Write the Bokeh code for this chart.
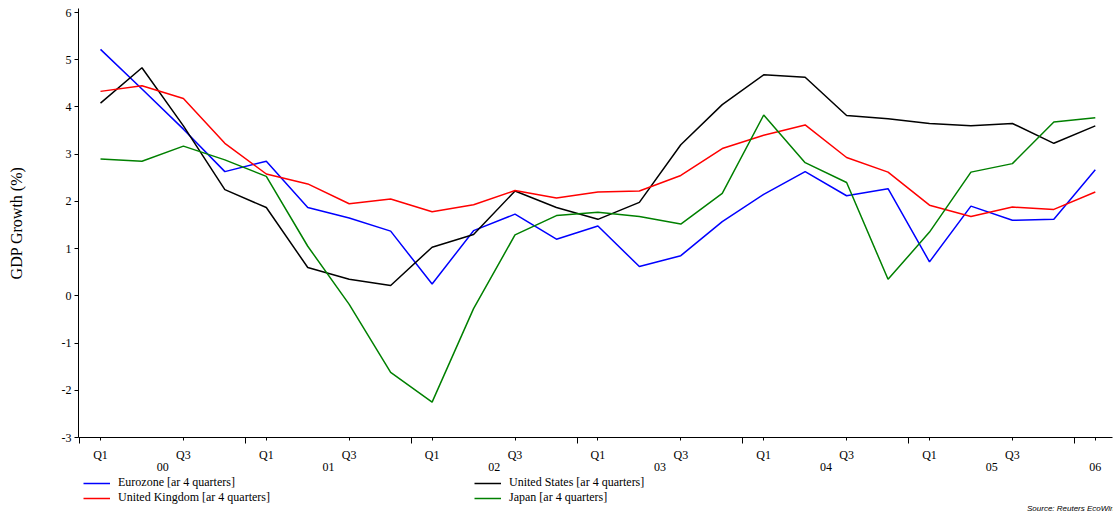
from bokeh.plotting import figure
from bokeh.layouts import column
from bokeh.models import FixedTicker, LinearAxis, Legend, LegendItem, Range1d, Label
from bokeh.embed import file_html
from bokeh.resources import INLINE

# Quarterly index: 0 = Q1 2000 ... 24 = Q1 2006
quarters = list(range(25))

eurozone = [5.22, 4.38, 3.53, 2.63, 2.85, 1.87, 1.65, 1.37, 0.25, 1.38, 1.73, 1.20, 1.48,
            0.62, 0.85, 1.57, 2.15, 2.63, 2.12, 2.27, 0.72, 1.90, 1.60, 1.62, 2.67]
united_states = [4.08, 4.83, 3.60, 2.25, 1.87, 0.60, 0.35, 0.22, 1.03, 1.30, 2.22, 1.87, 1.62,
                 1.98, 3.20, 4.05, 4.68, 4.63, 3.82, 3.75, 3.65, 3.60, 3.65, 3.23, 3.60]
united_kingdom = [4.33, 4.45, 4.18, 3.23, 2.58, 2.37, 1.95, 2.05, 1.78, 1.93, 2.23, 2.07, 2.20,
                  2.22, 2.55, 3.12, 3.40, 3.62, 2.93, 2.62, 1.92, 1.68, 1.88, 1.83, 2.20]
japan = [2.90, 2.85, 3.17, 2.88, 2.53, 1.05, -0.18, -1.62, -2.25, -0.27, 1.29, 1.70, 1.77,
         1.68, 1.52, 2.17, 3.83, 2.82, 2.40, 0.35, 1.35, 2.62, 2.80, 3.68, 3.77]

series = [eurozone, united_states, united_kingdom, japan]
series_names = ["Eurozone [ar 4 quarters]", "United States [ar 4 quarters]",
                "United Kingdom [ar 4 quarters]", "Japan [ar 4 quarters]"]
series_colors = ["#0000ff", "#000000", "#ff0000", "#008000"]

q_tick_pos = [0, 2, 4, 6, 8, 10, 12, 14, 16, 18, 20, 22, 24]
q_tick_labels = ["Q1", "Q3", "Q1", "Q3", "Q1", "Q3", "Q1", "Q3", "Q1", "Q3", "Q1", "Q3", ""]
year_bounds = [-0.5, 3.5, 7.5, 11.5, 15.5, 19.5, 23.5]
year_label_pos = [1.5, 5.5, 9.5, 13.5, 17.5, 21.5, 24]
year_labels = ["00", "01", "02", "03", "04", "05", "06"]
y_ticks = [-3, -2, -1, 0, 1, 2, 3, 4, 5, 6]
y_tick_labels = ["-3", "-2", "-1", "0", "1", "2", "3", "4", "5", "6"]
source_text = "Source: Reuters EcoWin"

SERIF = "Liberation Serif"
LW = 1.5

p = figure(width=1118, height=476, output_backend="svg", toolbar_location=None,
           x_range=Range1d(-0.531, 24.415), y_range=Range1d(-3, 6.085),
           min_border_left=78, min_border_right=6, min_border_top=8, min_border_bottom=39)
p.outline_line_color = None
p.xgrid.visible = False
p.ygrid.visible = False

for data, color in zip(series, series_colors):
    p.line(quarters, data, line_color=color, line_width=LW)

# y axis
ya = p.yaxis[0]
ya.ticker = FixedTicker(ticks=y_ticks)
ya.major_label_overrides = {k: v for k, v in zip(y_ticks, y_tick_labels)}
ya.major_tick_out = 4
ya.major_tick_in = 0
ya.minor_tick_line_color = None
ya.major_label_standoff = 3
ya.major_label_text_font = SERIF
ya.major_label_text_font_size = "12px"
ya.major_label_text_color = "black"
ya.axis_line_color = "black"
ya.axis_label = "GDP Growth (%)"
ya.axis_label_text_font = SERIF
ya.axis_label_text_font_size = "16px"
ya.axis_label_text_font_style = "normal"
ya.axis_label_text_color = "black"
ya.axis_label_standoff = 34

# x axis: quarter labels with year boundary ticks
xa = p.xaxis[0]
xa.ticker = FixedTicker(ticks=q_tick_pos, minor_ticks=year_bounds)
xa.major_label_overrides = {k: v for k, v in zip(q_tick_pos, q_tick_labels)}
xa.major_tick_out = 3
xa.major_tick_in = 0
xa.minor_tick_out = 6
xa.minor_tick_in = 0
xa.minor_tick_line_color = "black"
xa.major_label_standoff = 4
xa.major_label_text_font = SERIF
xa.major_label_text_font_size = "12px"
xa.major_label_text_color = "black"
xa.axis_line_color = "black"

# second x axis: year labels
xa2 = LinearAxis(ticker=FixedTicker(ticks=year_label_pos),
                 major_label_overrides={k: v for k, v in zip(year_label_pos, year_labels)},
                 axis_line_color=None, major_tick_line_color=None, minor_tick_line_color=None,
                 major_tick_out=0, major_tick_in=0, major_label_standoff=-2,
                 major_label_text_font=SERIF, major_label_text_font_size="12px",
                 major_label_text_color="black")
p.add_layout(xa2, "below")

# legend strip below the chart (frame aligned with the chart frame by the column layout)
p2 = figure(width=1118, height=36, output_backend="svg", toolbar_location=None,
            x_range=Range1d(-200, -199), y_range=Range1d(0, 1),
            min_border_left=78, min_border_right=6, min_border_top=0, min_border_bottom=0)
p2.outline_line_color = None
p2.axis.visible = False
p2.grid.visible = False
legend_renderers = [p2.line(quarters, data, line_color=color, line_width=LW)
                    for data, color in zip(series, series_colors)]

order = [0, 2, 1, 3]
legend = Legend(items=[LegendItem(label=series_names[i], renderers=[legend_renderers[i]]) for i in order],
                ncols=2, location=(5, 7), orientation="vertical",
                label_text_font=SERIF, label_text_font_size="12px", label_text_color="black",
                glyph_width=27, glyph_height=12, label_height=12, label_width=356,
                label_standoff=8, spacing=0, padding=0, margin=0,
                border_line_color=None, background_fill_alpha=0)
p2.add_layout(legend)

src = Label(x=1036, y=0, x_units="screen", y_units="screen", text=source_text,
            text_align="right", text_baseline="bottom", text_font="Liberation Sans",
            text_font_style="italic", text_font_size="8px", text_color="black")
p2.add_layout(src)

layout = column(p, p2, spacing=0)
open("out.html", "w").write(file_html(layout, INLINE))
